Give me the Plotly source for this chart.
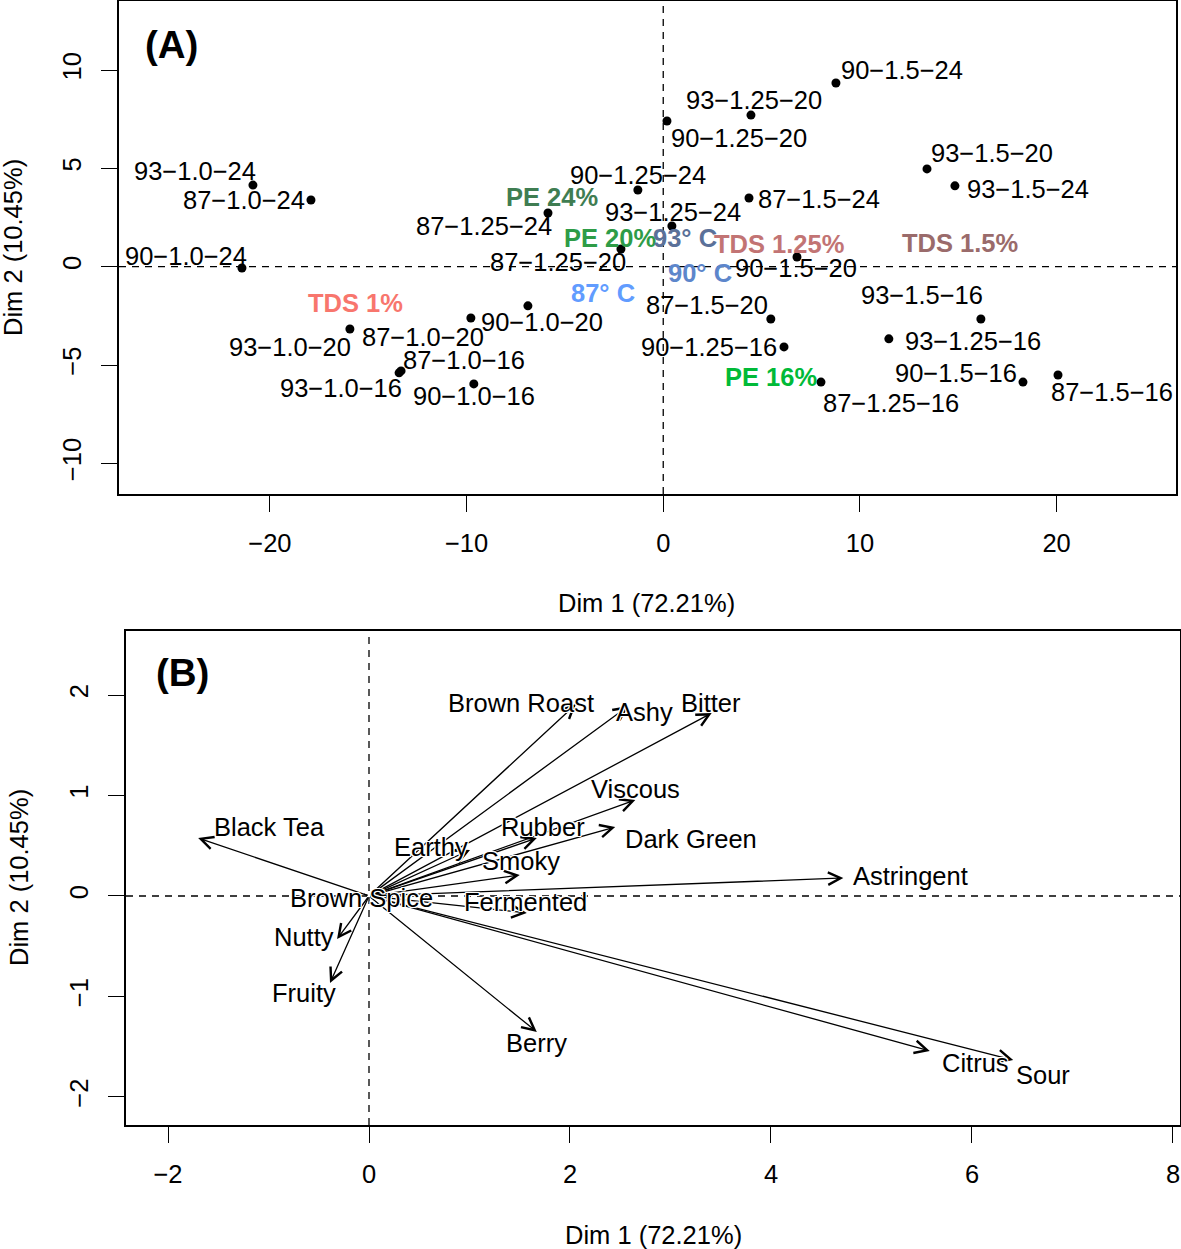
import plotly.graph_objects as go

W, H = 1181, 1249
FONT = "Liberation Sans, Arial, Helvetica, sans-serif"
FS = 25.5

# ---------------- Panel A data (individuals) ----------------
samples = ["90−1.5−24", "93−1.25−20", "90−1.25−20", "93−1.5−20", "93−1.5−24",
           "87−1.5−24", "93−1.25−24", "90−1.25−24", "87−1.25−24", "87−1.25−20",
           "90−1.5−20", "90−1.0−24", "93−1.0−24", "87−1.0−24", "93−1.0−20",
           "87−1.0−20", "90−1.0−20", "87−1.0−16", "93−1.0−16", "90−1.0−16",
           "87−1.5−20", "90−1.25−16", "87−1.25−16", "93−1.25−16", "93−1.5−16",
           "90−1.5−16", "87−1.5−16"]
dim1 = [8.78, 4.46, 0.19, 13.41, 14.83, 4.36, 0.44, -1.29, -5.86, -2.15,
        6.80, -21.42, -20.86, -17.91, -15.93, -9.78, -6.88, -13.33, -13.43, -9.63,
        5.47, 6.14, 8.02, 11.47, 16.15, 18.29, 20.07]
dim2 = [9.34, 7.71, 7.41, 4.97, 4.11, 3.49, 2.07, 3.90, 2.73, 0.90,
        0.49, -0.07, 4.15, 3.39, -3.17, -2.61, -1.99, -5.30, -5.40, -5.96,
        -2.66, -4.08, -5.87, -3.67, -2.66, -5.87, -5.51]

# supplementary category labels
groups = ["TDS 1%", "TDS 1.25%", "TDS 1.5%", "PE 24%", "PE 20%", "PE 16%",
          "93° C", "90° C", "87° C"]
group_d1 = [-15.67, 5.88, 15.09, -5.66, -2.71, 5.48, 1.10, 1.87, -3.07]
group_d2 = [-1.85, 1.15, 1.20, 3.54, 1.46, -5.63, 1.46, -0.32, -1.34]

# ---------------- Panel B data (variables) ----------------
variables = ["Black Tea", "Brown Roast", "Ashy", "Bitter", "Viscous", "Rubber",
             "Dark Green", "Earthy", "Smoky", "Astringent", "Fermented",
             "Brown Spice", "Nutty", "Fruity", "Berry", "Citrus", "Sour"]
var_d1 = [-1.70, 2.06, 2.58, 3.41, 2.65, 1.67, 2.45, 1.005, 1.50, 4.72, 1.57,
          -0.05, -0.318, -0.388, 1.67, 5.58, 6.41]
var_d2 = [0.577, 1.91, 1.89, 1.82, 0.955, 0.577, 0.687, 0.458, 0.209, 0.179, -0.169,
          0.02, -0.428, -0.866, -1.353, -1.542, -1.632]

xticks_a = [-20, -10, 0, 10, 20]
yticks_a = [-10, -5, 0, 5, 10]
xticks_b = [-2, 0, 2, 4, 6, 8]
yticks_b = [-2, -1, 0, 1, 2]
xlab = "Dim 1 (72.21%)"
ylab = "Dim 2 (10.45%)"

# ---------------- styling / label placement (pixels) ----------------
sample_offsets = [(66, -13), (3, -15), (72, 17), (65, -16), (73, 3), (70, 1), (1, -14),
                  (0, -15), (-64, 13), (-63, 13), (-1, 11), (-56, -12), (-58, -14),
                  (-67, 0), (-60, 18), (-48, 19), (14, 16), (63, -11), (-58, 15),
                  (0, 12), (-64, -14), (-75, 0), (70, 21), (84, 2), (-59, -24),
                  (-67, -9), (54, 17)]
group_colors = ["#F8766D", "#C27474", "#9A6B6B", "#3F7D52", "#2E9C47", "#00BA38",
                "#5B7199", "#5D86CB", "#619CFF"]
var_offsets = [(71, -11), (-55, -1), (16, 6), (-1, -10), (0, -11), (6, -11), (76, 12),
               (-39, -3), (1, -14), (67, -2), (-1, -11), (-2, 4), (-33, -2), (-26, 10),
               (0, 11), (46, 12), (30, 15)]

HALO = ("white 1px 0px 0px, white -1px 0px 0px, white 0px 1px 0px, white 0px -1px 0px, "
        "white 1px 1px 0px, white -1px -1px 0px, white 1px -1px 0px, white -1px 1px 0px")

fig = go.Figure()

fig.add_trace(go.Scatter(x=dim1, y=dim2, mode="markers", xaxis="x", yaxis="y",
                         marker=dict(color="black", size=9), text=samples,
                         hoverinfo="text", showlegend=False))
fig.add_trace(go.Scatter(x=var_d1, y=var_d2, mode="markers", xaxis="x2", yaxis="y2",
                         marker=dict(color="rgba(0,0,0,0)", size=4), text=variables,
                         hoverinfo="text", showlegend=False))

ann = []
# sample labels
for name, x, y, (dx, dy) in zip(samples, dim1, dim2, sample_offsets):
    ann.append(dict(x=x, y=y, xref="x", yref="y", text=name, showarrow=False,
                    xshift=dx, yshift=-dy, xanchor="center", yanchor="middle",
                    font=dict(family=FONT, size=FS, color="black")))
# group labels
for name, x, y, c in zip(groups, group_d1, group_d2, group_colors):
    ann.append(dict(x=x, y=y, xref="x", yref="y", text="<b>" + name + "</b>",
                    showarrow=False, xanchor="center", yanchor="middle",
                    font=dict(family=FONT, size=FS, color=c)))

# arrows (drawn first so labels sit above)
for x, y in zip(var_d1, var_d2):
    tiny = (x * x + y * y) ** 0.5 < 0.1
    ann.append(dict(x=x, y=y, xref="x2", yref="y2", ax=0, ay=0, axref="x2", ayref="y2",
                    text="", showarrow=True, arrowhead=0 if tiny else 5,
                    arrowsize=1.9, arrowwidth=1.3, arrowcolor="black", standoff=0,
                    startstandoff=0))
for name, x, y, (dx, dy) in zip(variables, var_d1, var_d2, var_offsets):
    ann.append(dict(x=x, y=y, xref="x2", yref="y2", text=name, showarrow=False,
                    xshift=dx, yshift=-dy, xanchor="center", yanchor="middle",
                    font=dict(family=FONT, size=FS, color="black", shadow=HALO)))


def P(px, py):
    return px / W, 1 - py / H


# panel tags and axis titles
for txt, (px, py), size, ang in [
    ("<b>(A)</b>", (171, 44), 38.5, 0),
    ("<b>(B)</b>", (182, 672), 38.5, 0),
    (xlab, (647, 603), FS, 0),
    (ylab, (13, 248), FS, -90),
    (xlab, (653, 1235), FS, 0),
    (ylab, (19, 878), FS, -90),
]:
    x, y = P(px, py)
    ann.append(dict(x=x, y=y, xref="paper", yref="paper", text=txt, showarrow=False,
                    xanchor="center", yanchor="middle", textangle=ang,
                    font=dict(family=FONT, size=size, color="black")))

dash = dict(color="black", width=1.3, dash="7px,6px")
shapes = [
    dict(type="line", xref="x", yref="y domain", x0=0, x1=0, y0=0, y1=1, line=dash, layer="below"),
    dict(type="line", xref="x domain", yref="y", x0=0, x1=1, y0=0, y1=0, line=dash, layer="below"),
    dict(type="line", xref="x2", yref="y2 domain", x0=0, x1=0, y0=0, y1=1, line=dash, layer="below"),
    dict(type="line", xref="x2 domain", yref="y2", x0=0, x1=1, y0=0, y1=0, line=dash, layer="below"),
]

axis_common = dict(showgrid=False, zeroline=False, showline=True, linecolor="black",
                   linewidth=1.6, mirror=True, ticks="outside", ticklen=16, tickwidth=1.4,
                   tickcolor="black", tickfont=dict(family=FONT, size=FS, color="black"),
                   automargin=False)

fig.update_layout(
    width=W, height=H, margin=dict(l=0, r=0, t=0, b=0),
    paper_bgcolor="white", plot_bgcolor="white", showlegend=False,
    xaxis=dict(domain=[119 / W, 1176 / W], range=[-27.67, 26.07], anchor="y",
               tickvals=xticks_a, ticklabelstandoff=10, **axis_common),
    yaxis=dict(domain=[1 - 494 / H, 1 - 1 / H], range=[-11.56, 13.51], anchor="x",
               tickvals=yticks_a, tickangle=-90, ticklabelstandoff=10, **axis_common),
    xaxis2=dict(domain=[126 / W, 1180 / W], range=[-2.418, 8.07], anchor="y2",
                tickvals=xticks_b, ticklabelstandoff=10, **axis_common),
    yaxis2=dict(domain=[1 - 1125 / H, 1 - 631 / H], range=[-2.279, 2.637], anchor="x2",
                tickvals=yticks_b, tickangle=-90, ticklabelstandoff=10, **axis_common),
    annotations=ann, shapes=shapes,
)

fig.write_html("out.html", config={"displayModeBar": False},
               post_script="document.body.style.margin='0px';")
